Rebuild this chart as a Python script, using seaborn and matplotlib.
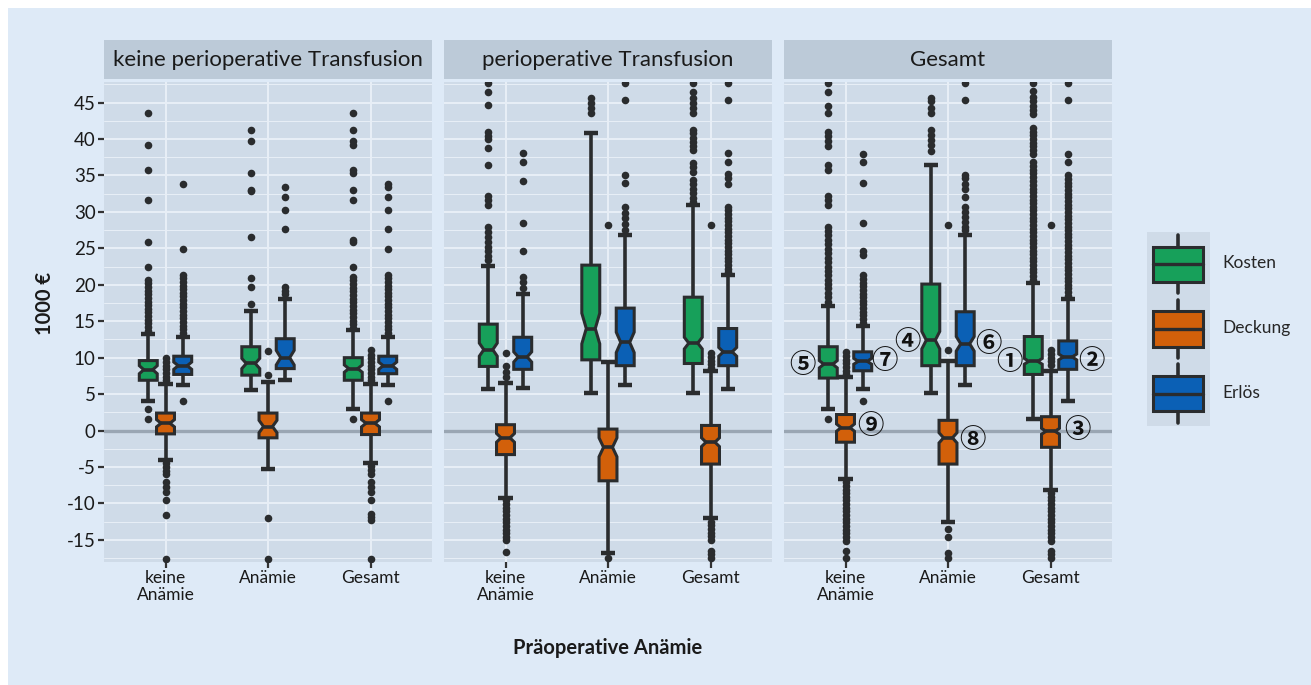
import numpy as np
import pandas as pd
import matplotlib
matplotlib.use("Agg")
import matplotlib.pyplot as plt
from matplotlib.patches import Rectangle, Patch
from matplotlib.lines import Line2D
from matplotlib.legend_handler import HandlerBase
from matplotlib.ticker import MultipleLocator
import seaborn as sns

# ---------------- data ----------------
panels = ["keine perioperative Transfusion", "perioperative Transfusion", "Gesamt"]
categories = ["keine\nAnämie", "Anämie", "Gesamt"]
series = ["Kosten", "Deckung", "Erlös"]
series_colors = ["#17a05a", "#d2600a", "#0b60b5"]

# order: panel-major (P1: keine Anämie, Anämie, Gesamt, P2: ..., P3: ...)
kosten_q1 = [6.9, 7.6, 6.9, 8.8, 9.7, 9.2, 7.2, 8.9, 7.7]
kosten_med = [8.35, 9.2, 8.5, 11.1, 14.0, 12.0, 9.1, 12.4, 9.5]
kosten_q3 = [9.6, 11.5, 10.0, 14.6, 22.7, 18.3, 11.5, 20.1, 12.9]
kosten_lo = [4.1, 5.6, 3.0, 5.7, 5.1, 5.1, 3.0, 5.1, 1.6]
kosten_hi = [13.3, 16.4, 13.8, 22.6, 40.8, 30.9, 17.1, 36.4, 20.3]
kosten_ci = [0.55, 0.7, 0.5, 0.9, 2.1, 0.8, 0.5, 1.2, 0.4]
kosten_out = [
    [43.6, 39.2, 35.8, 31.7, 25.9, 22.4, 20.7, 20.2, 19.7, 19.2, 18.7, 18.2, 17.7, 17.2, 16.7,
     16.2, 15.7, 15.2, 14.7, 14.2, 13.7, 3.0, 1.6],
    [41.2, 39.8, 35.4, 33.0, 32.9, 26.5, 20.9, 19.7, 17.3],
    [43.6, 41.2, 39.8, 39.2, 35.8, 35.4, 33.0, 31.7, 26.2, 25.9, 22.4, 21.1, 20.6, 20.1, 19.6,
     19.1, 18.6, 18.1, 17.6, 17.1, 16.6, 16.1, 15.6, 15.1, 14.6, 14.1, 1.6],
    [47.7, 46.5, 44.7, 41.0, 40.4, 40.0, 38.8, 36.5, 32.2, 31.6, 31.0, 28.0, 27.3, 26.6, 25.9,
     25.2, 24.6, 23.9, 23.4],
    [45.6, 44.9, 44.2, 43.6],
    [47.7, 46.5, 45.6, 45.0, 44.3, 43.6, 41.3, 40.8, 40.2, 39.6, 39.0, 38.5, 36.7, 36.1, 35.5,
     34.4, 33.8, 33.2, 32.6, 31.9, 31.4],
    [47.7, 46.4, 44.6, 43.6, 41.0, 40.4, 39.8, 39.0, 36.5, 35.8, 32.2, 31.6, 31.0, 28.0, 27.4,
     26.8, 26.2, 25.6, 24.9, 24.3, 23.7, 23.1, 22.5, 21.9, 21.3, 20.7, 20.1, 19.5, 18.9, 18.3,
     17.7, 1.6],
    [45.6, 45.2, 44.2, 43.6, 41.3, 40.6, 39.9, 39.2, 38.3],
    [47.7, 46.6, 45.8, 45.2, 44.6, 44.0, 43.5, 41.5, 41.0, 40.5, 40.0, 39.5, 39.0, 38.5, 38.0,
     36.8, 36.3, 35.8, 35.3, 34.8, 34.2, 33.7, 33.2, 32.7, 32.2, 31.7, 31.2, 30.7, 30.2, 29.7,
     29.2, 28.7, 28.2, 27.7, 27.2, 26.7, 26.2, 25.7, 25.2, 24.7, 24.2, 23.7, 23.2, 22.7, 22.2,
     21.7, 21.2, 20.7],
]

deckung_q1 = [-0.46, -1.0, -0.55, -3.3, -6.9, -4.6, -1.6, -4.6, -2.3]
deckung_med = [1.0, 0.55, 1.0, -1.0, -2.3, -1.6, 0.4, -1.0, -0.1]
deckung_q3 = [2.4, 2.4, 2.4, 0.8, 0.2, 0.7, 2.2, 1.4, 1.9]
deckung_lo = [-4.1, -5.3, -4.5, -9.2, -16.8, -12.0, -6.7, -12.6, -8.2]
deckung_hi = [6.4, 6.7, 6.4, 6.5, 9.4, 8.2, 7.3, 9.5, 8.2]
deckung_ci = [0.5, 0.85, 0.5, 0.6, 1.3, 0.6, 0.5, 0.7, 0.4]
deckung_out = [
    [9.9, 9.4, 8.9, 8.4, 7.9, 7.4, 6.9, -4.5, -5.0, -5.5, -5.9, -7.1, -7.7, -8.4, -9.5, -11.6, -17.6],
    [10.9, 7.6, -12.0, -17.6],
    [11.0, 10.4, 9.9, 9.4, 8.9, 8.4, 7.9, 7.4, 6.9, -4.9, -5.4, -5.9, -7.1, -7.7, -8.4, -9.5,
     -11.4, -11.8, -12.3, -17.6],
    [10.7, 8.8, 8.1, 7.4, -9.6, -10.1, -10.6, -11.1, -11.6, -12.1, -12.6, -13.1, -13.6, -14.1,
     -14.6, -15.0, -16.7],
    [28.2, -17.5],
    [28.2, 10.6, 10.1, 9.6, 9.1, 8.6, -12.5, -13.0, -13.5, -14.0, -14.5, -15.0, -16.6, -17.0, -17.5],
    [10.8, 10.2, 9.7, 9.2, 8.7, 8.2, 7.7, -7.1, -7.6, -8.1, -8.6, -9.1, -9.6, -10.1, -10.6, -11.1,
     -11.6, -12.1, -12.6, -13.1, -13.6, -14.1, -14.6, -15.1, -16.6, -17.5],
    [28.2, 11.0, -13.5, -14.6, -16.8, -17.5],
    [28.2, 11.0, 10.5, 10.0, 9.5, 9.0, -8.6, -9.1, -9.6, -10.1, -10.6, -11.1, -11.6, -12.1, -12.6,
     -13.1, -13.6, -14.1, -14.6, -15.1, -16.6, -17.0, -17.5],
]

erloes_q1 = [7.7, 8.5, 7.8, 8.4, 8.9, 8.9, 8.2, 8.9, 8.4]
erloes_med = [8.9, 10.0, 8.9, 10.1, 12.1, 10.8, 9.5, 11.9, 10.1]
erloes_q3 = [10.2, 12.6, 10.2, 12.8, 16.8, 14.0, 10.8, 16.3, 12.3]
erloes_lo = [6.2, 7.0, 6.2, 5.8, 6.3, 5.7, 5.7, 6.3, 4.0]
erloes_hi = [12.9, 18.1, 12.9, 18.7, 26.8, 21.3, 14.3, 26.8, 18.0]
erloes_ci = [0.5, 1.0, 0.5, 0.7, 1.4, 0.6, 0.4, 1.0, 0.4]
erloes_out = [
    [33.9, 24.9, 21.4, 20.9, 20.4, 19.9, 19.4, 18.9, 18.4, 17.9, 17.4, 16.9, 16.4, 15.9, 15.4,
     14.9, 14.4, 13.9, 13.4, 4.0],
    [33.4, 32.1, 30.3, 27.6, 19.7, 19.2, 18.7],
    [33.9, 33.4, 32.1, 30.3, 27.6, 24.9, 21.4, 20.9, 20.4, 19.9, 19.4, 18.9, 18.4, 17.9, 17.4,
     16.9, 16.4, 15.9, 15.4, 14.9, 14.4, 13.9, 13.4, 4.0],
    [38.1, 36.8, 34.2, 28.5, 24.6, 21.1, 20.4, 19.5],
    [47.7, 45.3, 35.0, 34.0, 30.7, 29.8, 29.1, 28.4, 27.5],
    [47.7, 45.3, 38.1, 36.8, 35.2, 34.6, 33.9, 30.7, 30.2, 29.7, 29.2, 28.7, 28.2, 27.7, 27.2,
     26.7, 26.2, 25.7, 25.2, 24.7, 24.2, 23.7, 23.2, 22.7, 22.2, 21.7],
    [38.0, 36.8, 34.0, 28.5, 24.6, 24.1, 21.3, 20.8, 20.3, 19.8, 19.3, 18.8, 18.3, 17.8, 17.3,
     16.8, 16.3, 15.8, 15.3, 14.8, 4.0],
    [47.7, 45.3, 35.0, 34.6, 33.9, 33.2, 32.1, 30.7, 30.0, 29.3, 28.6, 28.0, 27.5],
    [47.7, 45.3, 38.0, 36.8, 35.0, 34.5, 34.0, 33.5, 33.0, 32.5, 32.0, 31.5, 31.0, 30.5, 30.0,
     29.5, 29.0, 28.5, 28.0, 27.5, 27.0, 26.5, 26.0, 25.5, 25.0, 24.5, 24.0, 23.5, 23.0, 22.5,
     22.0, 21.5, 21.0, 20.5, 20.0, 19.5, 19.0, 18.5],
]

circled_labels = ["⑤", "⑦", "⑨", "④", "⑥", "⑧", "①", "②", "③"]

# ---------------- style ----------------
FIG_BG = "#deeaf7"
PANEL_BG = "#cfdbe8"
STRIP_BG = "#bccad8"
GRID = "#e8eff7"
DARK = "#2a2c2e"
FONT = ["Lato", "DejaVu Sans"]

sns.set_theme(style="darkgrid", rc={"axes.facecolor": PANEL_BG, "grid.color": GRID})
plt.rcParams["font.family"] = FONT
plt.rcParams["axes.unicode_minus"] = False

stats_table = {
    "Kosten": (kosten_q1, kosten_med, kosten_q3, kosten_lo, kosten_hi, kosten_ci, kosten_out),
    "Deckung": (deckung_q1, deckung_med, deckung_q3, deckung_lo, deckung_hi, deckung_ci, deckung_out),
    "Erlös": (erloes_q1, erloes_med, erloes_q3, erloes_lo, erloes_hi, erloes_ci, erloes_out),
}
palette = dict(zip(series, sns.color_palette(series_colors)))
offsets = {"Kosten": -0.168, "Deckung": 0.0, "Erlös": 0.168}

# long-form outlier table
rows = []
for s in series:
    outs = stats_table[s][6]
    for p in range(3):
        for c in range(3):
            for v in outs[p * 3 + c]:
                rows.append({"panel": panels[p], "cat": c, "series": s, "value": v,
                             "xpos": c + offsets[s]})
outliers = pd.DataFrame(rows)

W, H = 1311, 685
fig = plt.figure(figsize=(W / 100, H / 100), dpi=100, facecolor="white")
fig.patches.append(Rectangle((8 / W, 0), 1 - 8 / W, 1 - 8 / H, transform=fig.transFigure,
                             facecolor=FIG_BG, edgecolor="none", zorder=-10))

panel_lefts = [104, 444, 784]
pw = 328
ptop, pbot = 81.5, 561.7
strip_top, strip_bot = 40, 79.3

axes = []
for p in range(3):
    ax = fig.add_axes([panel_lefts[p] / W, 1 - pbot / H, pw / W, (pbot - ptop) / H])
    ax.set_facecolor(PANEL_BG)
    axes.append(ax)
    ax.set_xlim(-0.6, 2.6)
    ax.set_ylim(-18.0, 47.9)
    ax.set_yticks(np.arange(-15, 50, 5))
    ax.yaxis.set_minor_locator(MultipleLocator(2.5))
    ax.set_xticks(range(3))
    ax.set_xticklabels(categories, linespacing=1.05)
    ax.grid(which="major", color=GRID, lw=1.4, zorder=0)
    ax.grid(which="minor", axis="y", color=GRID, lw=0.7, zorder=0)
    ax.set_axisbelow(True)
    for sp in ax.spines.values():
        sp.set_visible(False)
    ax.tick_params(axis="both", which="major", length=4, width=1.6, color="#333333",
                   labelsize=12.5, labelcolor="#1a1a1a", pad=2, bottom=True, left=(p == 0),
                   labelleft=(p == 0))
    ax.tick_params(axis="y", labelsize=13.5)
    ax.tick_params(which="minor", length=0)
    ax.axhline(0, color="#9aa6b3", lw=2.4, zorder=1)

    for c in range(3):
        for si, s in enumerate(series):
            q1, med, q3, lo, hi, ci, _ = stats_table[s]
            i = p * 3 + c
            st = dict(q1=q1[i], med=med[i], q3=q3[i], whislo=lo[i], whishi=hi[i],
                      cilo=med[i] - ci[i], cihi=med[i] + ci[i], fliers=[])
            ax.bxp([st], positions=[c + offsets[s]], widths=0.175, capwidths=0.14,
                   shownotches=True, patch_artist=True, manage_ticks=False,
                   boxprops=dict(facecolor=palette[s], edgecolor=DARK, linewidth=2.2),
                   whiskerprops=dict(color=DARK, linewidth=2.6, solid_capstyle="butt"),
                   capprops=dict(color=DARK, linewidth=3.2, solid_capstyle="butt"),
                   medianprops=dict(color=DARK, linewidth=2.6),
                   showfliers=False)

    sub = outliers[outliers["panel"] == panels[p]]
    sns.scatterplot(data=sub, x="xpos", y="value", color=DARK, s=30, linewidth=0,
                    ax=ax, legend=False, zorder=4, clip_on=True)
    ax.set_xlabel("")
    ax.set_ylabel("")
    ax.set_xlim(-0.6, 2.6)
    ax.set_ylim(-18.0, 47.9)

    # strip
    sax = fig.add_axes([panel_lefts[p] / W, 1 - strip_bot / H, pw / W, (strip_bot - strip_top) / H])
    sax.set_facecolor(STRIP_BG)
    sax.set_xticks([])
    sax.set_yticks([])
    for sp in sax.spines.values():
        sp.set_visible(False)
    sax.grid(False)
    sax.text(0.5, 0.48, panels[p], ha="center", va="center", fontsize=16, color="#1a1a1a",
             transform=sax.transAxes)

# circled annotations in panel 3
ann_pos = [(-0.42, 8.9), (0.38, 9.5), (0.24, 0.55), (0.60, 12.1), (1.39, 11.8),
           (1.24, -1.3), (1.60, 9.4), (2.40, 9.5), (2.26, 0.0)]
for lab, (x, y) in zip(circled_labels, ann_pos):
    axes[2].text(x, y, lab, ha="center", va="center", fontsize=19, color="#111111",
                 fontweight="bold", family=["Noto Sans CJK SC", "DejaVu Sans"], zorder=6)

# axis titles
fig.text(608 / W, 1 - 648 / H, "Präoperative Anämie", ha="center", va="center",
         fontsize=14.5, fontweight="bold", color="#1a1a1a")
fig.text(45 / W, 1 - 303 / H, "1000 €", ha="center", va="center", rotation=90,
         fontsize=14.5, fontweight="bold", color="#1a1a1a")


# legend with boxplot glyphs
class BoxKeyHandler(HandlerBase):
    def create_artists(self, legend, orig_handle, xdescent, ydescent, width, height,
                       fontsize, trans):
        x0, y0 = -xdescent, -ydescent
        bg = Rectangle((x0, y0), width, height, facecolor=PANEL_BG, edgecolor="none",
                       transform=trans)
        bw, bh = width * 0.8, height * 0.55
        bx, by = x0 + (width - bw) / 2, y0 + (height - bh) / 2
        cx = x0 + width / 2
        wt = Line2D([cx, cx], [by + bh, y0 + height * 0.95], color=DARK, lw=2.6, transform=trans)
        wb = Line2D([cx, cx], [y0 + height * 0.05, by], color=DARK, lw=2.6, transform=trans)
        box = Rectangle((bx, by), bw, bh, facecolor=orig_handle.get_facecolor(),
                        edgecolor=DARK, lw=2.2, transform=trans)
        med = Line2D([bx, bx + bw], [y0 + height / 2] * 2, color=DARK, lw=2.4, transform=trans)
        return [bg, wt, wb, box, med]


handles = [Patch(facecolor=palette[s]) for s in series]
fig.legend(handles, series, loc="upper left", bbox_to_anchor=(1147 / W, 1 - 232 / H),
           frameon=False, borderpad=0, borderaxespad=0, handlelength=3.6, handleheight=5.35,
           labelspacing=0, handletextpad=0.75, fontsize=12.5,
           handler_map={Patch: BoxKeyHandler()})

fig.savefig("out.png", dpi=100, facecolor=fig.get_facecolor())
